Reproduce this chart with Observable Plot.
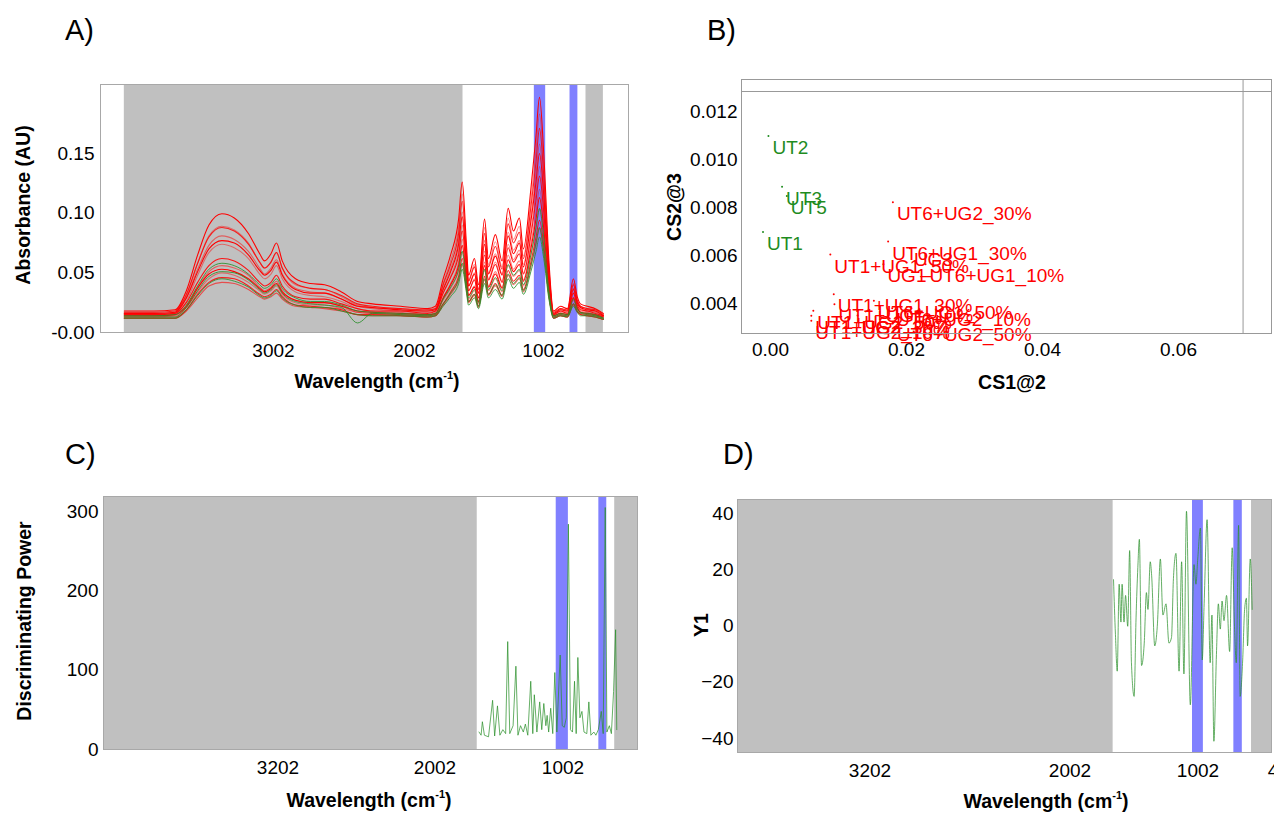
<!DOCTYPE html>
<html><head><meta charset="utf-8">
<script src="https://cdn.jsdelivr.net/npm/d3@7"></script>
<script src="https://cdn.jsdelivr.net/npm/@observablehq/plot@0.6"></script>
<style>
body{margin:0;background:#fff;}
#root{position:relative;width:1274px;height:816px;overflow:hidden;font-family:Arial,"Liberation Sans",sans-serif;background:#fff;}
.panel{position:absolute;}
.lab{position:absolute;font-size:29px;line-height:1;color:#000;}
.xt,.yt{position:absolute;font-weight:bold;font-size:19.5px;white-space:nowrap;line-height:1;color:#000;}
.xt{transform:translate(-50%,-50%);}
.yt{transform:translate(-50%,-50%) rotate(-90deg);}
sup{font-size:11px;vertical-align:9px;line-height:0;}
</style></head><body><div id="root"></div>
<script>
// ---------- Panel A: spectra ----------
const wnA = [4060,3850,3700,3620,3540,3460,3368,3280,3180,3100,3066,3020,2981,2940,2846,2740,2640,2520,2406,2300,2100,1900,1840,1780,1722,1660,1632,1600,1583,1537,1506,1459,1429,1375,1323,1276,1235,1189,1158,1100,1060,1033,1000,960,924,870,816,770,740,715,662,600,537];
const red01 = [.018,.018,.019,.035,.065,.090,.0995,.096,.083,.066,.060,.066,.075,.060,.045,.041,.040,.034,.026,.024,.022,.020,.022,.045,.065,.095,.126,.075,.048,.062,.040,.095,.062,.082,.060,.104,.085,.096,.070,.120,.165,.197,.150,.060,.018,.022,.020,.045,.030,.024,.022,.020,.016];
const red02 = [.016,.016,.017,.031,.058,.081,.089,.086,.075,.059,.054,.059,.067,.054,.040,.037,.036,.030,.023,.021,.020,.018,.020,.041,.060,.088,.116,.069,.044,.057,.036,.088,.057,.076,.055,.096,.078,.089,.064,.111,.153,.183,.139,.055,.016,.020,.018,.041,.027,.022,.020,.018,.014];
const red03 = [.017,.017,.018,.032,.058,.080,.088,.085,.074,.059,.054,.059,.067,.054,.041,.037,.036,.031,.024,.022,.020,.019,.020,.040,.057,.083,.110,.066,.043,.055,.036,.083,.055,.072,.053,.091,.075,.084,.062,.105,.143,.171,.131,.053,.017,.020,.019,.040,.027,.022,.020,.019,.015];
const red04 = [.015,.015,.016,.029,.053,.073,.081,.078,.068,.054,.049,.054,.061,.049,.037,.034,.033,.028,.022,.020,.018,.017,.018,.037,.053,.077,.101,.061,.039,.050,.033,.077,.050,.066,.049,.084,.069,.077,.057,.097,.133,.158,.121,.049,.015,.018,.017,.037,.025,.020,.018,.017,.013];
const red05 = [.016,.016,.017,.029,.051,.070,.077,.075,.065,.052,.048,.052,.059,.048,.036,.033,.033,.028,.022,.021,.019,.018,.019,.036,.051,.074,.097,.059,.039,.049,.033,.074,.049,.064,.048,.081,.066,.075,.055,.093,.126,.150,.115,.048,.016,.019,.018,.036,.025,.021,.019,.018,.014];
const red06 = [.014,.014,.015,.026,.048,.067,.074,.071,.062,.049,.045,.049,.056,.045,.034,.031,.030,.026,.020,.018,.017,.015,.017,.033,.047,.068,.090,.054,.035,.045,.029,.068,.045,.059,.043,.074,.061,.069,.050,.085,.117,.139,.106,.043,.014,.017,.015,.033,.022,.018,.017,.015,.013];
const red07 = [.015,.015,.016,.025,.042,.056,.062,.060,.052,.042,.039,.042,.048,.039,.030,.028,.028,.024,.020,.018,.018,.016,.018,.033,.046,.065,.085,.052,.035,.044,.029,.065,.044,.057,.042,.071,.059,.066,.049,.081,.111,.131,.101,.042,.015,.018,.016,.033,.023,.019,.018,.016,.014];
const red08 = [.013,.013,.014,.022,.038,.051,.056,.054,.048,.038,.035,.038,.043,.035,.027,.025,.025,.022,.017,.016,.015,.014,.015,.029,.041,.059,.078,.047,.031,.039,.026,.059,.039,.051,.038,.065,.053,.060,.044,.074,.101,.120,.092,.038,.013,.015,.014,.029,.020,.017,.015,.014,.012];
const red09 = [.014,.014,.015,.022,.037,.049,.053,.051,.045,.037,.034,.037,.041,.034,.027,.025,.025,.022,.018,.017,.016,.015,.016,.029,.040,.056,.073,.045,.031,.038,.026,.056,.038,.049,.037,.061,.051,.057,.043,.070,.095,.113,.087,.037,.014,.016,.015,.029,.021,.017,.016,.015,.013];
const red10 = [.013,.013,.013,.021,.034,.045,.050,.048,.042,.035,.032,.035,.039,.032,.025,.023,.023,.020,.017,.016,.015,.014,.015,.027,.037,.052,.067,.042,.028,.035,.024,.052,.035,.045,.034,.056,.047,.052,.039,.064,.087,.103,.079,.034,.013,.015,.014,.027,.019,.016,.015,.014,.012];
const red11 = [.012,.012,.012,.019,.032,.042,.046,.045,.039,.032,.030,.032,.036,.030,.023,.022,.021,.019,.015,.015,.014,.013,.014,.024,.034,.047,.062,.038,.026,.032,.022,.047,.032,.041,.031,.052,.043,.048,.036,.059,.080,.094,.073,.031,.012,.014,.013,.024,.018,.015,.014,.013,.011];
const red12 = [.012,.012,.012,.018,.029,.039,.042,.041,.036,.030,.028,.030,.033,.028,.022,.021,.020,.018,.015,.014,.014,.013,.014,.023,.032,.044,.057,.036,.025,.031,.021,.044,.031,.039,.030,.048,.040,.045,.034,.055,.074,.087,.067,.030,.012,.014,.013,.023,.017,.015,.014,.013,.011];
const green01 = [.014,.014,.015,.023,.039,.053,.058,.056,.049,.040,.037,.040,.045,.037,.029,.026,.026,.023,.018,.017,.016,.015,.016,.028,.038,.053,.068,.043,.029,.036,.025,.053,.036,.046,.035,.057,.048,.053,.040,.065,.088,.104,.080,.035,.014,.016,.015,.028,.020,.017,.016,.015,.012];
const green02 = [.013,.013,.013,.021,.035,.047,.051,.050,.044,.036,.033,.036,.040,.033,.026,.024,.023,.021,.008,.016,.015,.014,.015,.024,.033,.045,.058,.037,.026,.032,.022,.045,.032,.040,.031,.049,.041,.046,.035,.056,.075,.088,.068,.031,.013,.015,.014,.024,.018,.016,.015,.014,.012];
const green03 = [.012,.012,.012,.019,.031,.041,.045,.043,.038,.031,.029,.031,.035,.029,.023,.021,.021,.018,.015,.014,.014,.013,.014,.022,.030,.041,.053,.034,.023,.029,.020,.041,.029,.036,.028,.045,.037,.042,.032,.051,.068,.080,.062,.028,.012,.014,.013,.022,.017,.014,.014,.013,.011];
const grayA = [[4060,1626],[672,537]];
const blueA = [[1073,985],[796,735]];
const ticksA = [3002,2002,1002];

// ---------- Panel B: scores ----------
const labelsB = ["UT1","UT2","UT3","UT5","UT6+UG2_30%","UT6+UG1_30%","UG3","UT1+UG1_50%","UG1","UT6+UG1_10%","UT1+UG1_30%","UT6+UG1_50%","UT1+UG1_10%","UG2","UT6+UG2_10%","UT1+UG2_50%","UT1+UG2_30%","UT1+UG2_10%","UT6+UG2_50%"];
const cs1B = [-0.0011,-0.0003,0.0017,0.0024,0.0180,0.0173,0.0205,0.0088,0.0166,0.0228,0.0093,0.0152,0.0094,0.0128,0.0179,0.0063,0.0060,0.0060,0.0180];
const cs2B = [0.00698,0.01098,0.00886,0.00848,0.00822,0.00658,0.00630,0.00604,0.00563,0.00563,0.00439,0.00411,0.00397,0.00350,0.00380,0.00370,0.00349,0.00328,0.00321];
const classB = ["UT","UT","UT","UT","mix","mix","UG","mix","UG","mix","mix","mix","mix","UG","mix","mix","mix","mix","mix"];
const ticksBx = [0,0.02,0.04,0.06];
const ticksBy = [0.004,0.006,0.008,0.010,0.012];

// ---------- Panel C: discriminating power ----------
const wnC = [1658,1642,1632,1616,1584,1552,1536,1514,1495,1472,1450,1434,1418,1392,1370,1354,1334,1312,1296,1277,1254,1238,1226,1206,1184,1168,1152,1136,1126,1114,1098,1082,1066,1050,1024,1008,992,976,960,944,928,912,899,886,870,854,838,816,800,784,761,745,726,703,688,672,659,640,624,607,591,582];
const powerC = [22,18,35,18,16,62,17,55,18,25,20,136,20,30,105,18,30,22,32,18,86,20,69,22,60,25,58,30,43,22,52,20,97,22,119,30,28,40,284,25,22,86,20,116,40,48,22,20,60,18,22,18,25,48,20,305,22,30,20,73,151,25];
const grayC = [[4534,1672],[598,420]];
const blueC = [[1055,960],[722,660]];
const ticksC = [3202,2002,1002];

// ---------- Panel D: Y1 ----------
const wnD = [1662,1647,1633,1618,1604,1595,1580,1568,1551,1536,1522,1501,1486,1472,1460,1443,1422,1405,1393,1375,1364,1340,1320,1296,1276,1252,1229,1209,1194,1174,1150,1130,1112,1092,1062,1033,1018,1004,983,969,954,931,907,893,878,858,843,828,814,799,779,755,735,717,703,685,673,653,638,624,615,594,579];
const y1D = [16.6,-3,-16,15,1.5,15,1.5,11,0,27,-13,-25,3,21,31,-14,-6,12,6,23,18,-7,0,24,4,8,-6,-4,17,26,-16,23,-17,41,-28,22,15,24,35,-12,8,38,-13,4,-41,-10,8,-1,9,2,11,-9,28,0,-13,36,-25,-12,6,10,-7,24,6];
const grayD = [[3997,1665],[584,428]];
const blueD = [[1045,960],[722,656]];
const ticksD = [3202,2002,1002,402];

// ---------- drawing ----------
const FONT = 'Arial, "Liberation Sans", sans-serif';
const GRAY = "#c0c0c0", BLUE = "#8080ff", FRAME = "#a8a8a8";
const RED = "#ff0000", GREEN = "#2a8f2a";
const root = document.getElementById("root");
const spans = arr => arr.map(([a, b]) => ({a, b}));
const baseStyle = {fontFamily: FONT, fontSize: "19px", color: "#000", background: "transparent", overflow: "visible"};

function place(svg, left, top) {
  const d = document.createElement("div");
  d.className = "panel"; d.style.left = left + "px"; d.style.top = top + "px";
  d.appendChild(svg); root.appendChild(d);
}
function html(cls, txt, x, y) {
  const d = document.createElement("div");
  d.className = cls; d.innerHTML = txt;
  d.style.left = x + "px"; d.style.top = y + "px";
  root.appendChild(d);
}

// Panel A
const redSets = [red01,red02,red03,red04,red05,red06,red07,red08,red09,red10,red11,red12];
const greenSets = [green01,green02,green03];
const redAlpha = [1,0.45,0.85,0.5,1,0.45,0.9,0.5,1,0.45,0.85,0.6];
const toRows = s => wnA.map((w, j) => ({w, v: s[j]}));
const plotA = Plot.plot({
  width: 640, height: 330, marginLeft: 100, marginRight: 12, marginTop: 24, marginBottom: 58,
  style: baseStyle,
  x: {type: "linear", domain: [4229,3002,2002,1002,342], range: [100,273,414,543,628], ticks: ticksA, tickSize: 0, tickPadding: 11, tickFormat: d => String(d), label: null},
  y: {domain: [0, 0.2078], ticks: [0,0.05,0.10,0.15], tickSize: 0, tickPadding: 6, tickFormat: d => d === 0 ? "-0.00" : d.toFixed(2), label: null},
  marks: [
    Plot.rect(spans(grayA), {x1: "a", x2: "b", fill: GRAY}),
    Plot.rect(spans(blueA), {x1: "a", x2: "b", fill: BLUE}),
    ...redSets.map((s, i) => Plot.line(toRows(s), {x: "w", y: "v", stroke: RED, strokeOpacity: redAlpha[i], strokeWidth: 1.1, curve: "monotone-x"})),
    ...greenSets.map(s => Plot.line(toRows(s), {x: "w", y: "v", stroke: GREEN, strokeOpacity: 0.85, strokeWidth: 1, curve: "monotone-x"})),
    Plot.frame({stroke: FRAME})
  ]
});
place(plotA, 0, 60);

// Panel B
const rowsB = labelsB.map((t, i) => ({t, x: cs1B[i], y: cs2B[i], c: classB[i] === "UT" ? "#1f8c1f" : "#ff0000"}));
const plotB = Plot.plot({
  width: 634, height: 330, marginLeft: 101, marginRight: 3, marginTop: 19, marginBottom: 57,
  style: baseStyle,
  x: {domain: [-0.004265, 0.07368], ticks: ticksBx, tickSize: 0, tickPadding: 9, tickFormat: d => d.toFixed(2), label: null},
  y: {domain: [0.00275, 0.01333], ticks: ticksBy, tickSize: 0, tickPadding: 4, tickFormat: d => d.toFixed(3), label: null},
  marks: [
    Plot.ruleY([0.01283], {stroke: "#999"}),
    Plot.ruleX([0.0695], {stroke: "#999"}),
    Plot.dot(rowsB, {x: "x", y: "y", r: 1, fill: "c", stroke: null}),
    Plot.text(rowsB, {x: "x", y: "y", text: "t", fill: "c", textAnchor: "start", dx: 4, dy: 12, fontSize: 19}),
    Plot.frame({stroke: "#999"})
  ]
});
place(plotB, 640, 60);

// Panel C
const rowsC = wnC.map((w, i) => ({w, v: powerC[i]}));
const plotC = Plot.plot({
  width: 640, height: 346, marginLeft: 103, marginRight: 3, marginTop: 26, marginBottom: 67,
  style: baseStyle,
  x: {type: "linear", domain: [4534,3202,2002,1002,420], range: [103,277.5,434.5,562.5,637], ticks: ticksC, tickSize: 0, tickPadding: 11, tickFormat: d => String(d), label: null},
  y: {domain: [0, 318.9], ticks: [0,100,200,300], tickSize: 0, tickPadding: 5, label: null},
  marks: [
    Plot.rect(spans(grayC), {x1: "a", x2: "b", fill: GRAY}),
    Plot.rect(spans(blueC), {x1: "a", x2: "b", fill: BLUE}),
    Plot.line(rowsC, {x: "w", y: "v", stroke: GREEN, strokeOpacity: 0.8, strokeWidth: 0.9}),
    Plot.frame({stroke: FRAME})
  ]
});
place(plotC, 0, 470);

// Panel D
const rowsD = wnD.map((w, i) => ({w, v: y1D[i]}));
const plotD = Plot.plot({
  width: 634, height: 346, marginLeft: 97, marginRight: 3, marginTop: 29, marginBottom: 64,
  style: baseStyle,
  x: {type: "linear", domain: [3997,3202,2002,1002,428,402], range: [97,229.5,429.5,557.5,631,643], ticks: ticksD, tickSize: 0, tickPadding: 11, tickFormat: d => String(d), label: null},
  y: {domain: [-45, 45.2], ticks: [-40,-20,0,20,40], tickSize: 0, tickPadding: 4, label: null},
  marks: [
    Plot.rect(spans(grayD), {x1: "a", x2: "b", fill: GRAY}),
    Plot.rect(spans(blueD), {x1: "a", x2: "b", fill: BLUE}),
    Plot.line(rowsD, {x: "w", y: "v", stroke: GREEN, strokeOpacity: 0.8, strokeWidth: 0.9, curve: "monotone-x"}),
    Plot.frame({stroke: FRAME})
  ]
});
place(plotD, 640, 470);

// texts
html("lab", "A)", 65, 16);
html("lab", "B)", 707, 16);
html("lab", "C)", 65, 440);
html("lab", "D)", 723, 440);
html("xt", "Wavelength (cm<sup>-1</sup>)", 377, 382);
html("yt", "Absorbance (AU)", 24, 205);
html("xt", "CS1@2", 1012, 383);
html("yt", "CS2@3", 675, 207);
html("xt", "Wavelength (cm<sup>-1</sup>)", 369, 801);
html("yt", "Discriminating Power", 25, 621);
html("xt", "Wavelength (cm<sup>-1</sup>)", 1046, 802);
html("yt", "Y1", 702, 625);
</script></body></html>
